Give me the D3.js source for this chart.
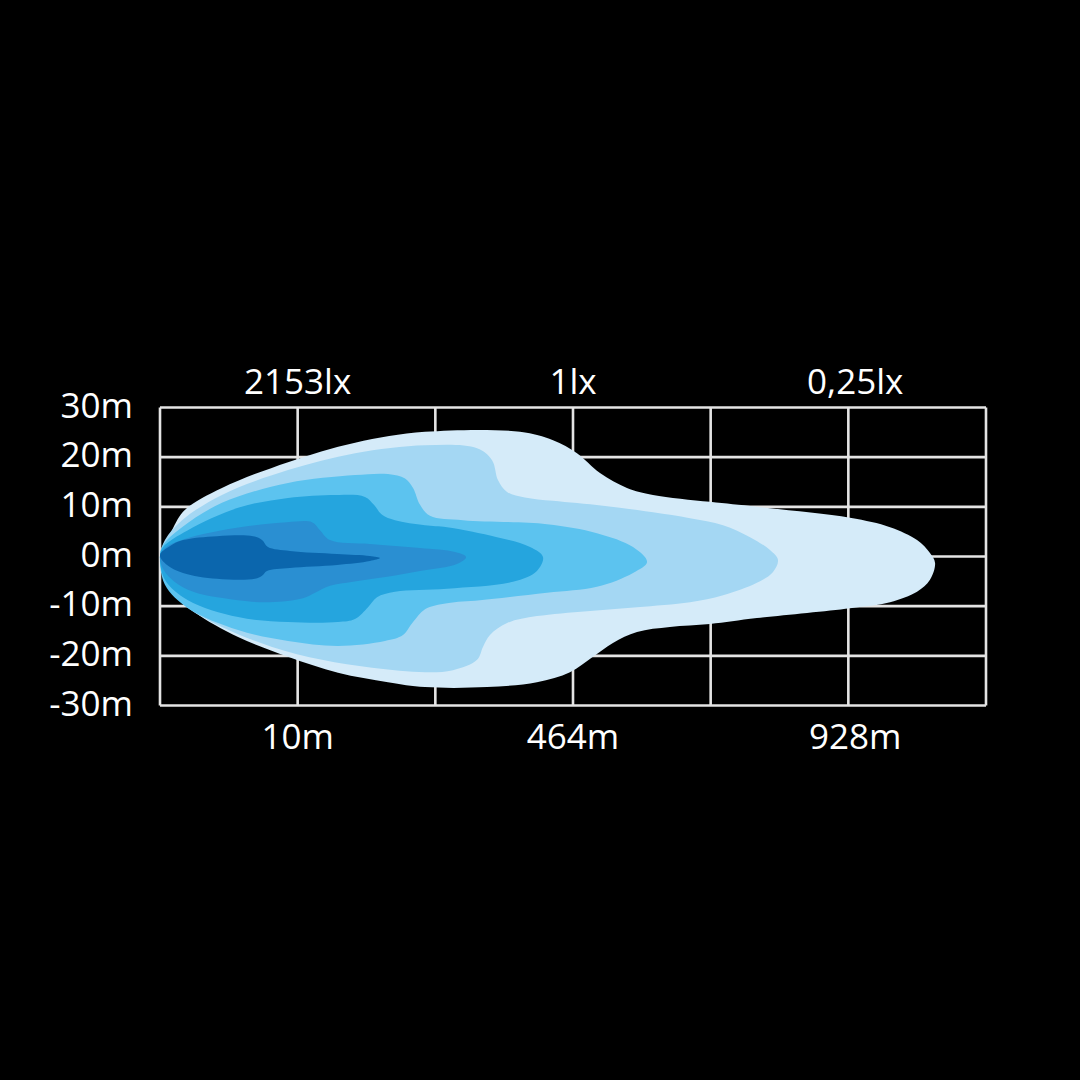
<!DOCTYPE html>
<html>
<head>
<meta charset="utf-8">
<script src="https://cdn.jsdelivr.net/npm/d3@7"></script>
<style>
  html, body { margin: 0; padding: 0; background: #000; }
  svg { display: block; }
  text { font-family: "Open Sans", "Noto Sans", sans-serif; fill: #fff; }
</style>
</head>
<body>
<svg id="chart" width="1080" height="1080"></svg>
<script>
// ---- data (x in grid units: 10 per column, 6 columns; y in metres) ----
const yTicks = [30, 20, 10, 0, -10, -20, -30];
const yTickLabels = ["30m", "20m", "10m", "0m", "-10m", "-20m", "-30m"];
const xGrid = [0, 10, 20, 30, 40, 50, 60];
const topLabels = ["2153lx", "1lx", "0,25lx"];
const bottomLabels = ["10m", "464m", "928m"];
const labelAt = [10, 30, 50.5];

const layerNames = ["0.25lx", "1lx", "zone3", "zone4", "zone5", "2153lx"];
const layerColors = ["#d5ebf9", "#a4d7f3", "#5cc3ef", "#25a5de", "#2a8fd2", "#0b66ad"];

const layer1 = [
  [0,0.1],[0.15,0.7],[0.87,5.3],[1.82,9.4],[4.5,13.8],[9.3,19.0],[14.17,22.9],[19.25,25.1],
  [26.15,25.1],[28.55,23.4],[30.29,20.8],[31.96,16.8],[33.92,13.8],[35.81,12.4],[39.95,11.0],
  [43.36,10.0],[50.12,7.8],[53.03,5.9],[54.99,3.3],[55.93,0.7],[56.3,-1.3],[55.93,-4.7],
  [54.99,-7.1],[53.03,-9.2],[50.12,-10.4],[43.36,-12.4],[39.95,-13.6],[37.04,-14.2],
  [34.65,-15.2],[32.9,-17.4],[31.45,-20.2],[29.78,-23.3],[27.38,-25.3],[23.75,-26.3],
  [19.25,-26.3],[16.56,-25.3],[12.93,-23.4],[9.3,-20.2],[5.67,-16.2],[2.54,-11.2],
  [1.09,-7.3],[0.36,-3.7]
];
const layer2 = [
  [0,0.1],[0.36,3.3],[1.6,7.3],[4.5,12.4],[9.3,17.4],[14.17,20.8],[19.25,22.4],[23.03,21.8],
  [24.12,19.4],[24.55,15.4],[25.21,13.0],[26.5,11.9],[28.55,11.2],[32.18,10.2],[35.81,8.9],
  [38.5,7.7],[40.9,6.3],[42.86,3.9],[44.31,1.3],[44.89,-0.7],[44.53,-3.1],[43.36,-5.3],
  [40.9,-7.8],[38.5,-9.2],[34.65,-10.2],[31.02,-11.0],[27.38,-12.0],[25.21,-13.4],
  [23.97,-15.8],[23.46,-18.2],[23.03,-20.8],[21.28,-22.9],[19.25,-23.3],[15.4,-22.4],
  [11.77,-20.8],[8.14,-18.2],[4.5,-14.2],[1.6,-9.4],[0.36,-4.7]
];
const layer3 = [
  [0,0.1],[0.22,2.3],[1.6,5.9],[4.5,10.8],[9.3,14.8],[14.17,16.4],[16.56,16.6],[17.8,15.7],
  [18.38,13.8],[18.89,10.4],[19.61,8.2],[22.01,7.3],[28.11,6.5],[31.74,4.7],[34.36,1.9],
  [35.38,-1.1],[34.36,-3.3],[31.74,-6.1],[28.11,-7.3],[23.24,-8.8],[20.85,-9.4],
  [19.25,-10.6],[18.38,-13.2],[17.65,-15.8],[16.34,-17.0],[12.93,-18.0],[9.3,-17.0],
  [5.67,-14.8],[2.03,-10.4],[0.36,-5.7]
];
const layer4 = [
  [0,0.1],[0.22,1.9],[2.03,5.3],[5.67,9.8],[9.3,11.8],[12.93,12.4],[14.89,12.0],[15.54,10.4],
  [16.13,8.4],[17.07,7.3],[19.25,6.3],[20.85,5.9],[24.48,3.9],[26.88,1.9],[27.82,-0.1],
  [27.38,-2.9],[25.64,-5.1],[20.85,-6.5],[17.07,-7.1],[15.76,-8.2],[15.11,-10.2],
  [14.16,-12.6],[12.93,-13.2],[9.3,-13.2],[5.67,-12.2],[2.03,-8.8],[0.36,-4.7]
];
const layer5 = [
  [0,0.1],[0.36,1.7],[2.03,3.7],[4.5,5.3],[6.9,6.3],[9.22,6.9],[11.04,6.9],[11.62,5.3],
  [12.35,3.3],[15.25,2.5],[18.89,1.7],[21.43,0.9],[22.23,-0.1],[21.57,-1.5],[18.89,-2.9],
  [16.49,-4.1],[14.02,-5.1],[12.35,-5.9],[11.26,-7.3],[10.39,-8.4],[7.99,-9.2],
  [5.67,-8.8],[2.03,-6.7],[0.36,-3.1]
];
const layer6 = [
  [0,0.3],[0.73,2.1],[1.67,3.3],[4.14,4.1],[6.76,4.1],[7.41,3.3],[7.84,1.9],[9.44,1.1],
  [12.86,0.5],[15.25,0.1],[15.98,-0.3],[15.25,-0.9],[12.86,-1.7],[9.44,-2.3],[7.77,-2.9],
  [7.41,-3.9],[6.9,-4.5],[4.14,-4.5],[1.67,-3.3],[0.51,-1.7]
];
const layers = [layer1, layer2, layer3, layer4, layer5, layer6];

// ---- drawing ----
const svg = d3.select("#chart");
svg.append("rect").attr("width", 1080).attr("height", 1080).attr("fill", "#000");

const x = d3.scaleLinear().domain([0, 60]).range([160, 986]);
const y = d3.scaleLinear().domain([-30, 30]).range([705.5, 407.5]);

const grid = svg.append("g").attr("stroke", "#e4e4e4").attr("stroke-width", 2.6).attr("fill", "none");
grid.selectAll("line.h").data(yTicks).join("line").attr("class", "h")
  .attr("x1", x(0)).attr("x2", x(60)).attr("y1", d => y(d)).attr("y2", d => y(d));
grid.selectAll("line.v").data(xGrid).join("line").attr("class", "v")
  .attr("y1", y(30)).attr("y2", y(-30)).attr("x1", d => x(d)).attr("x2", d => x(d));

const line = d3.line()
  .x(d => x(d[0])).y(d => y(d[1]))
  .curve(d3.curveCatmullRomClosed.alpha(0.5));

svg.append("g").selectAll("path").data(layers).join("path")
  .attr("d", d => line(d))
  .attr("fill", (d, i) => layerColors[i])
  .attr("data-name", (d, i) => layerNames[i]);

svg.append("g").selectAll("text").data(yTicks).join("text")
  .attr("x", 133).attr("y", d => y(d) + 10)
  .attr("text-anchor", "end").attr("font-size", 35)
  .text((d, i) => yTickLabels[i]);

svg.append("g").selectAll("text").data(topLabels).join("text")
  .attr("x", (d, i) => x(labelAt[i])).attr("y", 394)
  .attr("text-anchor", "middle").attr("font-size", 35)
  .text(d => d);

svg.append("g").selectAll("text").data(bottomLabels).join("text")
  .attr("x", (d, i) => x(labelAt[i])).attr("y", 749)
  .attr("text-anchor", "middle").attr("font-size", 35)
  .text(d => d);
</script>
</body>
</html>
